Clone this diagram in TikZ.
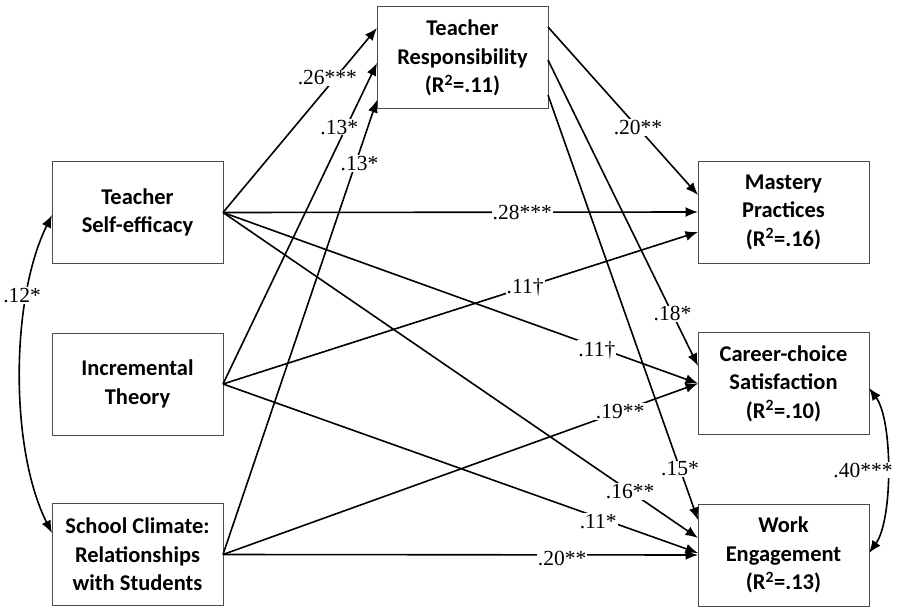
\documentclass[tikz,border=0pt]{standalone}
\usepackage{fontspec}
\setmainfont{Liberation Serif}
\newfontfamily\boxfont{Carlito}
\usetikzlibrary{arrows.meta}
\begin{document}
\begin{tikzpicture}[x=1pt,y=-1pt,
  vbox/.style={draw=black!70,line width=1pt,minimum width=171pt,minimum height=102pt,
    align=center,outer sep=0pt,inner sep=2pt,font=\boxfont\bfseries\fontsize{22.5}{28.5}\selectfont},
  lab/.style={fill=white,inner sep=1pt,font=\fontsize{21.5}{24}\selectfont},
  tip/.tip={Latex[length=12.5pt,width=10pt]},
  arr/.style={line width=1.6pt,-tip},
  cor/.style={line width=1.6pt,tip-tip}]
\useasboundingbox (0,0) rectangle (899,607);
% boxes
\node[vbox] (TSE) at (137.5,212.5) {Teacher\\Self-efficacy};
\node[vbox] (IT)  at (137.5,384) {Incremental\\Theory};
\node[vbox] (SC)  at (137.5,554.5) {School Climate:\\Relationships\\with Students};
\node[vbox] (TR)  at (462.5,58) {Teacher\\Responsibility\\(R\textsuperscript{2}=.11)};
\node[vbox] (MP)  at (783.5,212) {Mastery\\Practices\\(R\textsuperscript{2}=.16)};
\node[vbox] (CCS) at (783.5,383.5) {Career-choice\\Satisfaction\\(R\textsuperscript{2}=.10)};
\node[vbox] (WE)  at (783.5,555) {Work\\Engagement\\(R\textsuperscript{2}=.13)};
% paths to Teacher Responsibility
\draw[arr] (TSE.east) -- node[lab,pos=0.73,xshift=-8pt]{.26***} ([yshift=30pt]TR.west);
\draw[arr] (IT.east) -- node[lab,pos=0.8,xshift=-7pt]{.13*} ([yshift=-5pt]TR.west);
\draw[arr] (SC.east) -- node[lab,pos=0.86,xshift=4pt]{.13*} ([yshift=-42pt]TR.west);
% to Mastery Practices
\draw[arr] (TSE.east) -- node[lab,pos=0.63]{.28***} (MP.west);
\draw[arr] ([yshift=31pt]TR.east) -- node[lab,pos=0.6]{.20**} ([yshift=17pt]MP.west);
\draw[arr] (IT.east) -- node[lab,pos=0.636]{.11\dag} ([yshift=-20pt]MP.west);
% to Career-choice Satisfaction
\draw[arr] ([yshift=-2pt]TR.east) -- node[lab,pos=0.83]{.18*} ([yshift=17.5pt]CCS.west);
\draw[arr] (TSE.east) -- node[lab,pos=0.787,yshift=-3pt]{.11\dag} (CCS.west);
\draw[arr] (SC.east) -- node[lab,pos=0.836]{.19**} (CCS.west);
% to Work Engagement
\draw[arr] ([yshift=-37pt]TR.east) -- node[lab,pos=0.88]{.15*} ([yshift=35pt]WE.west);
\draw[arr] (TSE.east) -- node[lab,pos=0.857]{.16**} ([yshift=17pt]WE.west);
\draw[arr] (IT.east) -- node[lab,pos=0.79,yshift=-4pt]{.11*} ([yshift=2pt]WE.west);
\draw[arr] (SC.east) -- node[lab,pos=0.714,yshift=-4pt]{.20**} (WE.west);
% correlations
\draw[cor] ([yshift=-2.5pt]TSE.west) .. controls (10,300) and (10,450) .. node[lab,pos=0.27,xshift=-5pt]{.12*} ([yshift=21.5pt]SC.west);
\draw[cor] ([yshift=-4.5pt]CCS.east) .. controls (893,420) and (893,520) .. node[lab,pos=0.5,xshift=-24pt]{.40***} ([yshift=2pt]WE.east);
\end{tikzpicture}
\end{document}
